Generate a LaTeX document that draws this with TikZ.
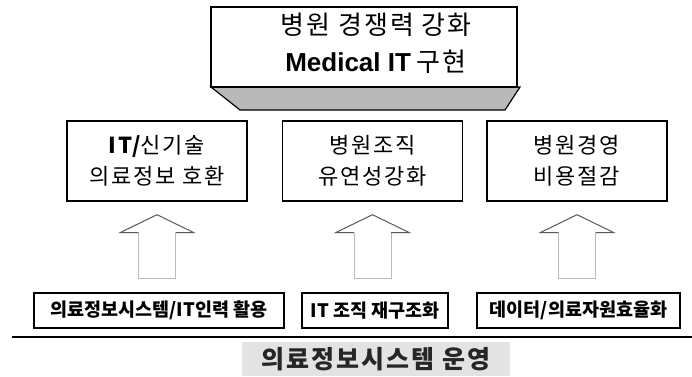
\documentclass[tikz,border=0pt]{standalone}
\usepackage{fontspec}
\usetikzlibrary{calc}
\setmainfont{Noto Sans CJK KR}
\newfontfamily\latinb[BoldFont={Liberation Sans Bold}]{Liberation Sans}
\newfontfamily\krsp[LetterSpace=8]{Noto Sans CJK KR}
\begin{document}
\begin{tikzpicture}[x=1pt,y=-1pt,
  topbox/.style={draw, line width=2pt, fill=white, minimum width=306pt, minimum height=80pt, inner sep=0pt},
  midbox/.style={draw, line width=1.4pt, minimum width=180pt, minimum height=80pt, inner sep=0pt, align=center,
     font=\krsp\fontsize{22pt}{31pt}\selectfont},
  botbox/.style={draw, line width=1.4pt, minimum height=35pt, inner sep=0pt,
     font=\bfseries\fontsize{18.5pt}{20pt}\selectfont},
  arrowshaft/.style={draw=gray!55, line width=1pt},
  arrowhead/.style={draw=black!65, line width=1pt},
  bevel/.style={fill=gray!55, draw=black, line width=1.2pt},
  txt/.style={inner sep=0pt}]
\useasboundingbox (0,0) rectangle (692,376);
\fill[white] (0,0) rectangle (692,376);

% top plaque
\draw[bevel] (211,87) -- (520,87) -- (505,110) -- (240,110) -- cycle;
\node[topbox] (top) at (364,47) {};
\node[txt, font=\krsp\fontsize{26pt}{30pt}\selectfont] (t1) at (376,25) {병원 경쟁력 강화};
\node[txt, font=\fontsize{26pt}{30pt}\selectfont] (t2) at (376,62) {{\latinb\bfseries Medical IT} {\krsp 구현}};

% middle boxes
\node[midbox] (m1) at (157,161) {{\bfseries IT/}신기술\\의료정보 호환};
\node[midbox] (m2) at (372.5,161) {병원조직\\유연성강화};
\node[midbox] (m3) at (577,161) {병원경영\\비용절감};

% bottom boxes
\node[botbox, minimum width=250pt] (b1) at (159,310.5) {의료정보시스템/IT인력 활용};
\node[botbox, minimum width=146pt] (b2) at (375,310.5) {IT 조직 재구조화};
\node[botbox, minimum width=203pt] (b3) at (578.5,310.5) {데이터/의료자원효율화};

% block arrows
\foreach \b/\m in {b1/m1,b2/m2,b3/m3}{
  \path (\m.south) ++(0,13) coordinate (tip-\m);
  \draw[arrowshaft] ($(tip-\m)+(18.5,18)$) -- ++(0,46) -- ++(-37,0) -- ++(0,-46);
  \draw[arrowhead] ($(tip-\m)+(-18.5,18)$) -- ++(-18.5,0) -- (tip-\m) -- ++(37,18) -- ++(-18.5,0);
}

% base line and title
\coordinate (l1) at (12,337);
\coordinate (l2) at (692,337);
\draw[line width=2.5pt] (l1) -- (l2);
\fill[gray!22] (242,342) rectangle (510,376);
\node[txt, text=black!85, font=\krsp\bfseries\fontsize{25pt}{28pt}\selectfont] (title) at (376,359) {의료정보시스템 운영};
\end{tikzpicture}
\end{document}
